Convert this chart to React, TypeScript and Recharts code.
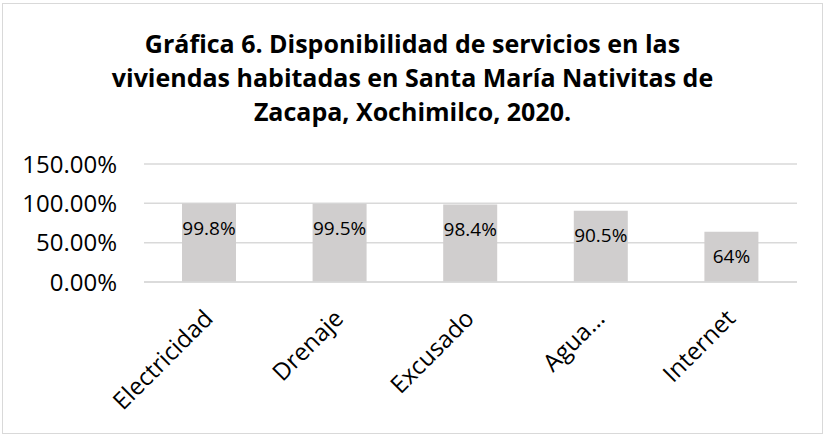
import { Bar, BarChart, CartesianGrid, LabelList, XAxis, YAxis } from "recharts";

const CATEGORIES = ["Electricidad", "Drenaje", "Excusado", "Agua…", "Internet"];
const VALUES = [0.998, 0.995, 0.984, 0.905, 0.64];
const VALUE_LABELS = ["99.8%", "99.5%", "98.4%", "90.5%", "64%"];
const Y_TICKS = [0, 0.5, 1, 1.5];
const TITLE_LINES = [
  "Gráfica 6. Disponibilidad de servicios en las",
  "viviendas habitadas en Santa María Nativitas de",
  "Zacapa, Xochimilco, 2020.",
];

const data = CATEGORIES.map((name, i) => ({ name, value: VALUES[i], label: VALUE_LABELS[i] }));

const FONT = "'Open Sans', sans-serif";

function XTick(props: any) {
  const { x, y, payload } = props;
  return (
    <g transform={`translate(${x + 5},${y + 30})`}>
      <text
        transform="rotate(-45)"
        textAnchor="end"
        fontSize={24}
        fontFamily={FONT}
        fill="#000"
      >
        {payload.value}
      </text>
    </g>
  );
}

export default function App() {
  return (
    <div
      style={{
        position: "absolute",
        left: 2,
        top: 3,
        width: 821,
        height: 431,
        border: "1px solid #d9d9d9",
        boxSizing: "border-box",
        background: "#fff",
        fontFamily: FONT,
      }}
    >
      <div
        style={{
          position: "absolute",
          top: 22,
          left: 0,
          width: 819,
          textAlign: "center",
          fontWeight: 700,
          fontSize: 25,
          lineHeight: "34px",
          color: "#000",
        }}
      >
        {TITLE_LINES.map((l) => (
          <div key={l}>{l}</div>
        ))}
      </div>
      <div style={{ position: "absolute", left: 0, top: 0 }}>
        <BarChart
          width={819}
          height={429}
          data={data}
          margin={{ top: 160, right: 25, left: 11, bottom: 31 }}
          barSize={54}
        >
          <CartesianGrid stroke="#d9d9d9" strokeWidth={1.5} vertical={false} />
          <XAxis
            dataKey="name"
            axisLine={{ stroke: "#d9d9d9", strokeWidth: 1.5 }}
            tickLine={false}
            interval={0}
            height={120}
            tick={<XTick />}
          />
          <YAxis
            domain={[0, 1.5]}
            ticks={Y_TICKS}
            width={130}
            axisLine={false}
            tickLine={false}
            tickMargin={21}
            tick={{ fontSize: 24, fontFamily: FONT, fill: "#000" }}
            tickFormatter={(v: number) => `${(v * 100).toFixed(2)}%`}
          />
          <Bar dataKey="value" fill="#d0cece" isAnimationActive={false}>
            <LabelList
              dataKey="label"
              position="insideTop"
              offset={18}
              fontSize={19}
              fontFamily={FONT}
              fill="#000"
            />
          </Bar>
        </BarChart>
      </div>
    </div>
  );
}
